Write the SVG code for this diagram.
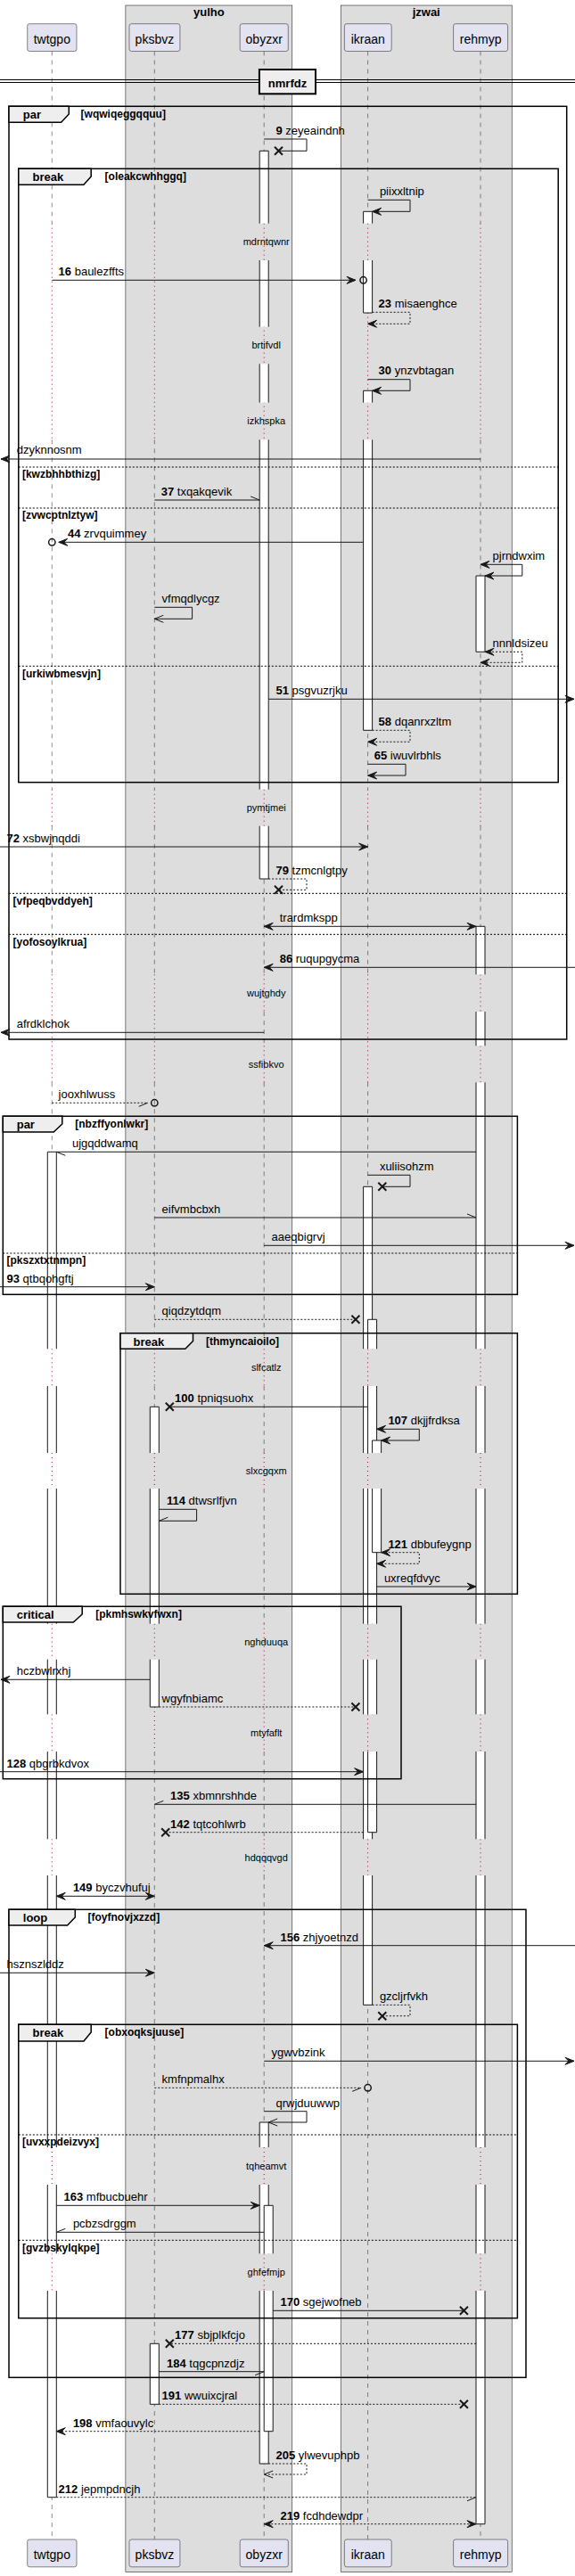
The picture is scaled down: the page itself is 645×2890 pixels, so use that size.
<svg xmlns="http://www.w3.org/2000/svg" width="645" height="2890" viewBox="0 0 645 2890">
<style>
.grp{fill:#DDDDDD;stroke:#000;stroke-width:0.5}
.gt{font:bold 13px 'Liberation Sans',Arial,sans-serif;text-anchor:middle;fill:#000}
.pb{fill:#E2E2F0;stroke:#181818;stroke-width:0.5}
.pt{font:14px 'Liberation Sans',Arial,sans-serif;text-anchor:middle;fill:#000}
.ll{fill:none;stroke:#181818;stroke-width:0.5;stroke-dasharray:5,5}
.ld{fill:none;stroke:#A80036;stroke-width:1;stroke-dasharray:1,4}
.bf{fill:#fff;stroke:none}
.bs{fill:none;stroke:#181818;stroke-width:1}
.fr{fill:none;stroke:#000;stroke-width:1.5}
.tab{fill:#EEEEEE;stroke:#000;stroke-width:1.5}
.fl{font:bold 13px 'Liberation Sans',Arial,sans-serif;fill:#000}
.gd{font:bold 12px 'Liberation Sans',Arial,sans-serif;fill:#000}
.sp{fill:none;stroke:#000;stroke-width:1;stroke-dasharray:2,2}
.dl{font:11px 'Liberation Sans',Arial,sans-serif;text-anchor:middle;fill:#000}
.m{fill:none;stroke:#181818;stroke-width:1}
.md{fill:none;stroke:#181818;stroke-width:1;stroke-dasharray:2,2}
.ah{fill:#181818;stroke:#181818;stroke-width:1}
.x{fill:none;stroke:#181818;stroke-width:2}
.c{fill:none;stroke:#181818;stroke-width:1.5}
.t{font:13px 'Liberation Sans',Arial,sans-serif;fill:#000}
.b{font-weight:bold}
.dv{fill:#EEEEEE;stroke:#000;stroke-width:2}
.dvl{fill:none;stroke:#000;stroke-width:1}
</style>
<rect width="645" height="2890" fill="#fff"/>
<g id="boxes">
<rect class="grp" x="140.9" y="6" width="186.9" height="2879.7"/>
<text class="gt" x="234.4" y="18">yulho</text>
<rect class="grp" x="382.2" y="6" width="192" height="2879.7"/>
<text class="gt" x="478.2" y="18">jzwai</text>
</g>
<g id="lifelines">
<path class="ll" d="M58.3 57.5V250.7M58.3 493.3V885.7M58.3 926.7V1093.3M58.3 1214.3V1513.3M58.3 1555V1630M58.3 1670V1821.7M58.3 1861.7V1923.3M58.3 1965V2063.3M58.3 2104V2409M58.3 2451V2528.3M58.3 2570V2848.7"/>
<path class="ld" d="M58.3 250.7V493.3M58.3 885.7V926.7M58.3 1093.3V1214.3M58.3 1513.3V1555M58.3 1630V1670M58.3 1821.7V1861.7M58.3 1923.3V1965M58.3 2063.3V2104M58.3 2409V2451M58.3 2528.3V2570"/>
<path class="ll" d="M173.3 57.5V250.7M173.3 493.3V885.7M173.3 926.7V1093.3M173.3 1214.3V1513.3M173.3 1555V1630M173.3 1670V1821.7M173.3 1861.7V1915M173.3 1965V2848.7"/>
<path class="ld" d="M173.3 250.7V493.3M173.3 885.7V926.7M173.3 1093.3V1214.3M173.3 1513.3V1555M173.3 1630V1670M173.3 1821.7V1861.7M173.3 1915V1965"/>
<path class="ll" d="M296.2 57.5V250.7M296.2 493.3V885.7M296.2 926.7V1093.3M296.2 1135V1173.3M296.2 1214.3V1513.3M296.2 1555V1630M296.2 1670V1821.7M296.2 1965V2063.3M296.2 2104V2409M296.2 2451V2528.3M296.2 2570V2848.7"/>
<path class="ld" d="M296.2 250.7V493.3M296.2 885.7V926.7M296.2 1093.3V1135M296.2 1173.3V1214.3M296.2 1513.3V1555M296.2 1630V1670M296.2 1821.7V1965M296.2 2063.3V2104M296.2 2409V2451M296.2 2528.3V2570"/>
<path class="ll" d="M412.6 57.5V250.7M412.6 493.3V885.7M412.6 926.7V1093.3M412.6 1214.3V1513.3M412.6 1555V1630M412.6 1670V1821.7M412.6 1861.7V1923.3M412.6 1965V2063.3M412.6 2104V2848.7"/>
<path class="ld" d="M412.6 250.7V493.3M412.6 885.7V926.7M412.6 1093.3V1214.3M412.6 1513.3V1555M412.6 1630V1670M412.6 1821.7V1861.7M412.6 1923.3V1965M412.6 2063.3V2104"/>
<path class="ll" d="M539 57.5V250.7M539 493.3V885.7M539 926.7V1093.3M539 1135V1173.3M539 1214.3V1513.3M539 1555V1630M539 1670V1821.7M539 1861.7V1923.3M539 1965V2063.3M539 2104V2409M539 2451V2528.3M539 2570V2848.7"/>
<path class="ld" d="M539 250.7V493.3M539 885.7V926.7M539 1093.3V1135M539 1173.3V1214.3M539 1513.3V1555M539 1630V1670M539 1821.7V1861.7M539 1923.3V1965M539 2063.3V2104M539 2409V2451M539 2528.3V2570"/>
</g>
<g id="p-twtgpo">
<rect class="pb" x="30.7" y="26.7" width="55.3" height="30.8" rx="2.5"/>
<text class="pt" x="58.3" y="48.7">twtgpo</text>
<rect class="pb" x="30.7" y="2849" width="55.3" height="30.8" rx="2.5"/>
<text class="pt" x="58.3" y="2870.7">twtgpo</text>
</g>
<g id="p-pksbvz">
<rect class="pb" x="145" y="26.7" width="56.9" height="30.8" rx="2.5"/>
<text class="pt" x="173.4" y="48.7">pksbvz</text>
<rect class="pb" x="145" y="2849" width="56.9" height="30.8" rx="2.5"/>
<text class="pt" x="173.4" y="2870.7">pksbvz</text>
</g>
<g id="p-obyzxr">
<rect class="pb" x="269.2" y="26.7" width="54.1" height="30.8" rx="2.5"/>
<text class="pt" x="296.2" y="48.7">obyzxr</text>
<rect class="pb" x="269.2" y="2849" width="54.1" height="30.8" rx="2.5"/>
<text class="pt" x="296.2" y="2870.7">obyzxr</text>
</g>
<g id="p-ikraan">
<rect class="pb" x="386.4" y="26.7" width="52.8" height="30.8" rx="2.5"/>
<text class="pt" x="412.8" y="48.7">ikraan</text>
<rect class="pb" x="386.4" y="2849" width="52.8" height="30.8" rx="2.5"/>
<text class="pt" x="412.8" y="2870.7">ikraan</text>
</g>
<g id="p-rehmyp">
<rect class="pb" x="508.6" y="26.7" width="61" height="30.8" rx="2.5"/>
<text class="pt" x="539.1" y="48.7">rehmyp</text>
<rect class="pb" x="508.6" y="2849" width="61" height="30.8" rx="2.5"/>
<text class="pt" x="539.1" y="2870.7">rehmyp</text>
</g>
<g id="divider">
<path class="dvl" d="M0 89.5H645M0 92.5H645"/>
<rect class="dv" x="290.9" y="78" width="63.1" height="27.3"/>
<text class="gt" x="322.5" y="97.5">nmrfdz</text>
</g>
<g id="bars">
<rect class="bf" x="291.2" y="169.3" width="10" height="81.4"/>
<rect class="bf" x="291.2" y="292" width="10" height="74.7"/>
<rect class="bf" x="291.2" y="408.3" width="10" height="43.4"/>
<rect class="bf" x="291.2" y="493.3" width="10" height="392.4"/>
<rect class="bf" x="291.2" y="926.7" width="10" height="59.3"/>
<rect class="bf" x="291.2" y="2381" width="10" height="28"/>
<rect class="bf" x="291.2" y="2451" width="10" height="77.3"/>
<rect class="bf" x="291.2" y="2570" width="10" height="194"/>
<path class="bs" d="M291.2 169.3V250.7M301.2 169.3V250.7M291.2 169.3H301.2M291.2 292V366.7M301.2 292V366.7M291.2 408.3V451.7M301.2 408.3V451.7M291.2 493.3V885.7M301.2 493.3V885.7M291.2 926.7V986M301.2 926.7V986M291.2 986H301.2M291.2 2381V2409M301.2 2381V2409M291.2 2381H301.2M291.2 2451V2528.3M301.2 2451V2528.3M291.2 2570V2764M301.2 2570V2764M291.2 2764H301.2"/>
<rect class="bf" x="296.2" y="2474.3" width="10" height="54"/>
<rect class="bf" x="296.2" y="2570" width="10" height="157.7"/>
<path class="bs" d="M296.2 2474.3V2528.3M306.2 2474.3V2528.3M296.2 2474.3H306.2M296.2 2570V2727.7M306.2 2570V2727.7M296.2 2727.7H306.2"/>
<rect class="bf" x="407.6" y="237.3" width="10" height="13.4"/>
<rect class="bf" x="407.6" y="292" width="10" height="59"/>
<rect class="bf" x="407.6" y="438.3" width="10" height="13.4"/>
<rect class="bf" x="407.6" y="493.3" width="10" height="326"/>
<rect class="bf" x="407.6" y="1331.3" width="10" height="182"/>
<rect class="bf" x="407.6" y="1555" width="10" height="75"/>
<rect class="bf" x="407.6" y="1670" width="10" height="151.7"/>
<rect class="bf" x="407.6" y="1861.7" width="10" height="61.6"/>
<rect class="bf" x="407.6" y="1965" width="10" height="98.3"/>
<rect class="bf" x="407.6" y="2104" width="10" height="145.3"/>
<path class="bs" d="M407.6 237.3V250.7M417.6 237.3V250.7M407.6 237.3H417.6M407.6 292V351M417.6 292V351M407.6 351H417.6M407.6 438.3V451.7M417.6 438.3V451.7M407.6 438.3H417.6M407.6 493.3V819.3M417.6 493.3V819.3M407.6 819.3H417.6M407.6 1331.3V1513.3M417.6 1331.3V1513.3M407.6 1331.3H417.6M407.6 1555V1630M417.6 1555V1630M407.6 1670V1821.7M417.6 1670V1821.7M407.6 1861.7V1923.3M417.6 1861.7V1923.3M407.6 1965V2063.3M417.6 1965V2063.3M407.6 2104V2249.3M417.6 2104V2249.3M407.6 2249.3H417.6"/>
<rect class="bf" x="412.6" y="1480.3" width="10" height="33"/>
<rect class="bf" x="412.6" y="1555" width="10" height="75"/>
<rect class="bf" x="412.6" y="1670" width="10" height="151.7"/>
<rect class="bf" x="412.6" y="1861.7" width="10" height="61.6"/>
<rect class="bf" x="412.6" y="1965" width="10" height="90.7"/>
<path class="bs" d="M412.6 1480.3V1513.3M422.6 1480.3V1513.3M412.6 1480.3H422.6M412.6 1555V1630M422.6 1555V1630M412.6 1670V1821.7M422.6 1670V1821.7M412.6 1861.7V1923.3M422.6 1861.7V1923.3M412.6 1965V2055.7M422.6 1965V2055.7M412.6 2055.7H422.6"/>
<rect class="bf" x="417.6" y="1616" width="10" height="14"/>
<rect class="bf" x="417.6" y="1670" width="10" height="71.7"/>
<path class="bs" d="M417.6 1616V1630M427.6 1616V1630M417.6 1616H427.6M417.6 1670V1741.7M427.6 1670V1741.7M417.6 1741.7H427.6"/>
<rect class="bf" x="534" y="646" width="10" height="85.3"/>
<rect class="bf" x="534" y="1039.3" width="10" height="54"/>
<rect class="bf" x="534" y="1135" width="10" height="38.3"/>
<rect class="bf" x="534" y="1214.3" width="10" height="299"/>
<rect class="bf" x="534" y="1555" width="10" height="75"/>
<rect class="bf" x="534" y="1670" width="10" height="151.7"/>
<rect class="bf" x="534" y="1861.7" width="10" height="61.6"/>
<rect class="bf" x="534" y="1965" width="10" height="98.3"/>
<rect class="bf" x="534" y="2104" width="10" height="305"/>
<rect class="bf" x="534" y="2451" width="10" height="77.3"/>
<rect class="bf" x="534" y="2570" width="10" height="261.7"/>
<path class="bs" d="M534 646V731.3M544 646V731.3M534 646H544M534 731.3H544M534 1039.3V1093.3M544 1039.3V1093.3M534 1039.3H544M534 1135V1173.3M544 1135V1173.3M534 1214.3V1513.3M544 1214.3V1513.3M534 1555V1630M544 1555V1630M534 1670V1821.7M544 1670V1821.7M534 1861.7V1923.3M544 1861.7V1923.3M534 1965V2063.3M544 1965V2063.3M534 2104V2409M544 2104V2409M534 2451V2528.3M544 2451V2528.3M534 2570V2831.7M544 2570V2831.7M534 2831.7H544"/>
<rect class="bf" x="53.3" y="1292.3" width="10" height="221"/>
<rect class="bf" x="53.3" y="1555" width="10" height="75"/>
<rect class="bf" x="53.3" y="1670" width="10" height="151.7"/>
<rect class="bf" x="53.3" y="1861.7" width="10" height="61.6"/>
<rect class="bf" x="53.3" y="1965" width="10" height="98.3"/>
<rect class="bf" x="53.3" y="2104" width="10" height="305"/>
<rect class="bf" x="53.3" y="2451" width="10" height="77.3"/>
<rect class="bf" x="53.3" y="2570" width="10" height="231.7"/>
<path class="bs" d="M53.3 1292.3V1513.3M63.3 1292.3V1513.3M53.3 1292.3H63.3M53.3 1555V1630M63.3 1555V1630M53.3 1670V1821.7M63.3 1670V1821.7M53.3 1861.7V1923.3M63.3 1861.7V1923.3M53.3 1965V2063.3M63.3 1965V2063.3M53.3 2104V2409M63.3 2104V2409M53.3 2451V2528.3M63.3 2451V2528.3M53.3 2570V2801.7M63.3 2570V2801.7M53.3 2801.7H63.3"/>
<rect class="bf" x="168.3" y="1578.3" width="10" height="51.7"/>
<rect class="bf" x="168.3" y="1670" width="10" height="151.7"/>
<rect class="bf" x="168.3" y="1861.7" width="10" height="53.3"/>
<rect class="bf" x="168.3" y="2629.3" width="10" height="68"/>
<path class="bs" d="M168.3 1578.3V1630M178.3 1578.3V1630M168.3 1578.3H178.3M168.3 1670V1821.7M178.3 1670V1821.7M168.3 1861.7V1915M178.3 1861.7V1915M168.3 1915H178.3M168.3 2629.3V2697.3M178.3 2629.3V2697.3M168.3 2629.3H178.3M168.3 2697.3H178.3"/>
</g>
<g id="frames">
<rect class="fr" x="10" y="119.3" width="625.7" height="1046.7"/>
<polygon class="tab" points="10,119.3 77.3,119.3 77.3,128 68.6,137.3 10,137.3"/>
<text class="fl" x="25.8" y="133">par</text>
<text class="gd" x="90.6" y="131.5">[wqwiqeggqquu]</text>
<path class="sp" d="M10 1002.3H635.7M10 1048.3H635.7"/>
<text class="gd" x="14.5" y="1014.5">[vfpeqbvddyeh]</text>
<text class="gd" x="14.5" y="1060.5">[yofosoylkrua]</text>
<rect class="fr" x="20.8" y="189.3" width="605.4" height="688.4"/>
<polygon class="tab" points="20.8,189.3 102.2,189.3 102.2,198 93.9,207.3 20.8,207.3"/>
<text class="fl" x="36.6" y="203.3">break</text>
<text class="gd" x="117.6" y="202">[oleakcwhhggq]</text>
<path class="sp" d="M20.8 524H626.2M20.8 570H626.2M20.8 747.3H626.2"/>
<text class="gd" x="24.9" y="536">[kwzbhhbthizg]</text>
<text class="gd" x="24.9" y="582">[zvwcptnlztyw]</text>
<text class="gd" x="24.9" y="759.5">[urkiwbmesvjn]</text>
<rect class="fr" x="3.3" y="1252.3" width="577.1" height="200"/>
<polygon class="tab" points="3.3,1252.3 69.8,1252.3 69.8,1261 60.2,1270 3.3,1270"/>
<text class="fl" x="18.7" y="1266">par</text>
<text class="gd" x="84.3" y="1264.5">[nbzffyonlwkr]</text>
<path class="sp" d="M3.3 1406H580.4"/>
<text class="gd" x="7.5" y="1418">[pkszxtxtnmpn]</text>
<rect class="fr" x="135" y="1495.7" width="445.4" height="292.6"/>
<polygon class="tab" points="135,1495.7 216.5,1495.7 216.5,1504.5 207.8,1513.3 135,1513.3"/>
<text class="fl" x="149.6" y="1509.7">break</text>
<text class="gd" x="231" y="1508.5">[thmyncaioilo]</text>
<rect class="fr" x="3.3" y="1802.3" width="446.7" height="193.4"/>
<polygon class="tab" points="3.3,1802.3 92.2,1802.3 92.2,1811 82.3,1820 3.3,1820"/>
<text class="fl" x="18.7" y="1816.3">critical</text>
<text class="gd" x="107.2" y="1815">[pkmhswkvfwxn]</text>
<rect class="fr" x="10" y="2142.3" width="580" height="525"/>
<polygon class="tab" points="10,2142.3 84.3,2142.3 84.3,2151 75.6,2160 10,2160"/>
<text class="fl" x="25.8" y="2156.3">loop</text>
<text class="gd" x="98.5" y="2155">[foyfnovjxzzd]</text>
<rect class="fr" x="20.8" y="2271.3" width="559.6" height="329.4"/>
<polygon class="tab" points="20.8,2271.3 102.2,2271.3 102.2,2280 93.9,2290 20.8,2290"/>
<text class="fl" x="36.6" y="2285.3">break</text>
<text class="gd" x="117.6" y="2284">[obxoqksjuuse]</text>
<path class="sp" d="M20.8 2395H580.4M20.8 2513.3H580.4"/>
<text class="gd" x="24.9" y="2407">[uvxxpdeizvyx]</text>
<text class="gd" x="24.9" y="2525.5">[gvzbskylqkpe]</text>
</g>
<g id="delays">
<text class="dl" x="298.7" y="275">mdrntqwnr</text>
<text class="dl" x="298.7" y="391">brtifvdl</text>
<text class="dl" x="298.7" y="476">izkhspka</text>
<text class="dl" x="298.7" y="910">pymtjmei</text>
<text class="dl" x="298.7" y="1118">wujtghdy</text>
<text class="dl" x="298.7" y="1198">ssfibkvo</text>
<text class="dl" x="298.7" y="1538">slfcatlz</text>
<text class="dl" x="298.7" y="1654">slxcgqxm</text>
<text class="dl" x="298.7" y="1846">nghduuqa</text>
<text class="dl" x="298.7" y="1948">mtyfaflt</text>
<text class="dl" x="298.7" y="2088">hdqqqvgd</text>
<text class="dl" x="298.7" y="2434">tqheamvt</text>
<text class="dl" x="298.7" y="2553">ghfefmjp</text>
</g>
<g id="connectors">
<path class="m" d="M296.2 156H344V169.3H312.5"/>
<path class="x" d="M308 164.8L317 173.8M317 164.8L308 173.8"/>
<text class="t" x="309.5" y="151"><tspan class="b">9</tspan> zeyeaindnh</text>
<path class="m" d="M412.6 224.3H460V237.3H417.6"/>
<polygon class="ah" points="427.6,233.3 417.6,237.3 427.6,241.3 423.6,237.3"/>
<text class="t" x="425.9" y="219">piixxltnip</text>
<path class="m" d="M58.3 314.3H399"/>
<polygon class="ah" points="389,310.3 399,314.3 389,318.3 393,314.3"/>
<circle class="c" cx="407.6" cy="314.3" r="3.7"/>
<text class="t" x="65.6" y="309"><tspan class="b">16</tspan> baulezffts</text>
<path class="md" d="M417.6 350.3H460V363.3H412.6"/>
<polygon class="ah" points="422.6,359.3 412.6,363.3 422.6,367.3 418.6,363.3"/>
<text class="t" x="424.6" y="344.5"><tspan class="b">23</tspan> misaenghce</text>
<path class="m" d="M412.6 425.7H460V438.3H417.6"/>
<polygon class="ah" points="427.6,434.3 417.6,438.3 427.6,442.3 423.6,438.3"/>
<text class="t" x="424.6" y="420"><tspan class="b">30</tspan> ynzvbtagan</text>
<path class="m" d="M539 515H1"/>
<polygon class="ah" points="11,511 1,515 11,519 7,515"/>
<text class="t" x="18.7" y="509">dzyknnosnm</text>
<path class="m" d="M173.3 561H291.2M291.2 561L281.2 557"/>
<text class="t" x="180.7" y="556"><tspan class="b">37</tspan> txqakqevik</text>
<path class="m" d="M407.6 608.3H65.8"/>
<polygon class="ah" points="75.8,604.3 65.8,608.3 75.8,612.3 71.8,608.3"/>
<circle class="c" cx="58.3" cy="608.3" r="3.7"/>
<text class="t" x="76" y="602.7"><tspan class="b">44</tspan> zrvquimmey</text>
<path class="m" d="M539 633.3H585.8V646H544"/>
<polygon class="ah" points="549,629.3 539,633.3 549,637.3 545,633.3"/>
<polygon class="ah" points="554,642 544,646 554,650 550,646"/>
<text class="t" x="552.6" y="628.3">pjrndwxim</text>
<path class="m" d="M173.3 681.3H215.6V694.3H173.3M183.3 690.3L173.3 694.3L183.3 698.3"/>
<text class="t" x="181.6" y="676">vfmqdlycgz</text>
<path class="md" d="M544 731.3H585.8V743.3H539"/>
<polygon class="ah" points="554,727.3 544,731.3 554,735.3 550,731.3"/>
<polygon class="ah" points="549,739.3 539,743.3 549,747.3 545,743.3"/>
<text class="t" x="552.6" y="726">nnnldsizeu</text>
<path class="m" d="M301.2 784.3H644"/>
<polygon class="ah" points="634,780.3 644,784.3 634,788.3 638,784.3"/>
<text class="t" x="309.5" y="779"><tspan class="b">51</tspan> psgvuzrjku</text>
<path class="md" d="M417.6 819.3H460V832.3H412.6"/>
<polygon class="ah" points="422.6,828.3 412.6,832.3 422.6,836.3 418.6,832.3"/>
<text class="t" x="424.6" y="814"><tspan class="b">58</tspan> dqanrxzltm</text>
<path class="m" d="M412.6 857.3H455V870H412.6"/>
<polygon class="ah" points="422.6,866 412.6,870 422.6,874 418.6,870"/>
<text class="t" x="419.7" y="852"><tspan class="b">65</tspan> iwuvlrbhls</text>
<path class="m" d="M0 950H412.6"/>
<polygon class="ah" points="402.6,946 412.6,950 402.6,954 406.6,950"/>
<text class="t" x="7.5" y="945"><tspan class="b">72</tspan> xsbwjnqddi</text>
<path class="md" d="M301.2 986H344V998.3H312.5"/>
<path class="x" d="M308 993.8L317 1002.8M317 993.8L308 1002.8"/>
<text class="t" x="309.5" y="981"><tspan class="b">79</tspan> tzmcnlgtpy</text>
<path class="m" d="M296.2 1039.3H534"/>
<polygon class="ah" points="306.2,1035.3 296.2,1039.3 306.2,1043.3 302.2,1039.3"/>
<polygon class="ah" points="524,1035.3 534,1039.3 524,1043.3 528,1039.3"/>
<text class="t" x="313.7" y="1034">trardmkspp</text>
<path class="m" d="M645 1085.3H296.2"/>
<polygon class="ah" points="306.2,1081.3 296.2,1085.3 306.2,1089.3 302.2,1085.3"/>
<text class="t" x="313.7" y="1080"><tspan class="b">86</tspan> ruqupgycma</text>
<path class="m" d="M296.2 1158.3H1"/>
<polygon class="ah" points="11,1154.3 1,1158.3 11,1162.3 7,1158.3"/>
<text class="t" x="18.7" y="1153">afrdklchok</text>
<path class="md" d="M58.3 1237.3H165.8"/>
<path class="m" d="M165.8 1237.3L155.8 1241.3"/>
<circle class="c" cx="173.3" cy="1237.3" r="3.7"/>
<text class="t" x="65.6" y="1232">jooxhlwuss</text>
<path class="m" d="M534 1292.3H63.3M63.3 1292.3L73.3 1296.3"/>
<text class="t" x="81" y="1287">ujgqddwamq</text>
<path class="m" d="M412.6 1318.3H460V1331.3H428.8"/>
<path class="x" d="M424.3 1326.8L433.3 1335.8M433.3 1326.8L424.3 1335.8"/>
<text class="t" x="425.9" y="1313">xuliisohzm</text>
<path class="m" d="M173.3 1366H534M534 1366L524 1362"/>
<text class="t" x="181.6" y="1361">eifvmbcbxh</text>
<path class="m" d="M296.2 1397.3H644"/>
<polygon class="ah" points="634,1393.3 644,1397.3 634,1401.3 638,1397.3"/>
<text class="t" x="304.6" y="1392">aaeqbigrvj</text>
<path class="m" d="M0 1443.7H173.3"/>
<polygon class="ah" points="163.3,1439.7 173.3,1443.7 163.3,1447.7 167.3,1443.7"/>
<text class="t" x="7.5" y="1438.5"><tspan class="b">93</tspan> qtbqohgftj</text>
<path class="md" d="M173.3 1480.3H398.9"/>
<path class="x" d="M394.4 1475.8L403.4 1484.8M403.4 1475.8L394.4 1484.8"/>
<text class="t" x="181.6" y="1475">qiqdzytdqm</text>
<path class="m" d="M412.6 1578.3H190.3"/>
<path class="x" d="M185.8 1573.8L194.8 1582.8M194.8 1573.8L185.8 1582.8"/>
<text class="t" x="196.1" y="1573"><tspan class="b">100</tspan> tpniqsuohx</text>
<path class="m" d="M422.6 1603.3H470.3V1616H427.6"/>
<polygon class="ah" points="432.6,1599.3 422.6,1603.3 432.6,1607.3 428.6,1603.3"/>
<polygon class="ah" points="437.6,1612 427.6,1616 437.6,1620 433.6,1616"/>
<text class="t" x="435.4" y="1598"><tspan class="b">107</tspan> dkjjfrdksa</text>
<path class="m" d="M178.3 1693.3H220.6V1706.3H178.3M178.3 1706.3L188.3 1702.3"/>
<text class="t" x="187" y="1688"><tspan class="b">114</tspan> dtwsrlfjvn</text>
<path class="md" d="M427.6 1741.7H470.3V1754.3H422.6"/>
<polygon class="ah" points="437.6,1737.7 427.6,1741.7 437.6,1745.7 433.6,1741.7"/>
<polygon class="ah" points="432.6,1750.3 422.6,1754.3 432.6,1758.3 428.6,1754.3"/>
<text class="t" x="435.4" y="1736.5"><tspan class="b">121</tspan> dbbufeygnp</text>
<path class="m" d="M422.6 1780H534"/>
<polygon class="ah" points="524,1776 534,1780 524,1784 528,1780"/>
<text class="t" x="430.9" y="1775">uxreqfdvyc</text>
<path class="m" d="M168.3 1884.3H1"/>
<polygon class="ah" points="11,1880.3 1,1884.3 11,1888.3 7,1884.3"/>
<text class="t" x="18.7" y="1879">hczbwlrxhj</text>
<path class="md" d="M178.3 1915H398.9"/>
<path class="x" d="M394.4 1910.5L403.4 1919.5M403.4 1910.5L394.4 1919.5"/>
<text class="t" x="181.6" y="1910">wgyfnbiamc</text>
<path class="m" d="M0 1987.7H407.6"/>
<polygon class="ah" points="397.6,1983.7 407.6,1987.7 397.6,1991.7 401.6,1987.7"/>
<text class="t" x="7.5" y="1982.5"><tspan class="b">128</tspan> qbgrbkdvox</text>
<path class="m" d="M534 2024.3H173.3M173.3 2024.3L183.3 2020.3"/>
<text class="t" x="191.1" y="2019"><tspan class="b">135</tspan> xbmnrshhde</text>
<path class="md" d="M407.6 2055.7H185.7"/>
<path class="x" d="M181.2 2051.2L190.2 2060.2M190.2 2051.2L181.2 2060.2"/>
<text class="t" x="191.1" y="2050.5"><tspan class="b">142</tspan> tqtcohlwrb</text>
<path class="m" d="M63.3 2127.3H173.3"/>
<polygon class="ah" points="73.3,2123.3 63.3,2127.3 73.3,2131.3 69.3,2127.3"/>
<polygon class="ah" points="163.3,2123.3 173.3,2127.3 163.3,2131.3 167.3,2127.3"/>
<text class="t" x="81.9" y="2122"><tspan class="b">149</tspan> byczvhufuj</text>
<path class="m" d="M645 2182.7H296.2"/>
<polygon class="ah" points="306.2,2178.7 296.2,2182.7 306.2,2186.7 302.2,2182.7"/>
<text class="t" x="314.5" y="2177.5"><tspan class="b">156</tspan> zhjyoetnzd</text>
<path class="m" d="M0 2213.3H173.3"/>
<polygon class="ah" points="163.3,2209.3 173.3,2213.3 163.3,2217.3 167.3,2213.3"/>
<text class="t" x="7.5" y="2208">hsznszlddz</text>
<path class="md" d="M417.6 2249.3H460V2261.7H428.8"/>
<path class="x" d="M424.3 2257.2L433.3 2266.2M433.3 2257.2L424.3 2266.2"/>
<text class="t" x="425.9" y="2244">gzcljrfvkh</text>
<path class="m" d="M296.2 2312.3H644"/>
<polygon class="ah" points="634,2308.3 644,2312.3 634,2316.3 638,2312.3"/>
<text class="t" x="304.6" y="2307">ygwvbzink</text>
<path class="md" d="M173.3 2342.3H405.1"/>
<path class="m" d="M405.1 2342.3L395.1 2346.3"/>
<circle class="c" cx="412.6" cy="2342.3" r="3.7"/>
<text class="t" x="181.6" y="2337">kmfnpmalhx</text>
<path class="m" d="M296.2 2368.7H344V2381H301.2M311.2 2377L301.2 2381L311.2 2385"/>
<text class="t" x="309.5" y="2363.5">qrwjduuwwp</text>
<path class="m" d="M63.3 2474.3H291.2"/>
<polygon class="ah" points="281.2,2470.3 291.2,2474.3 281.2,2478.3 285.2,2474.3"/>
<text class="t" x="71.5" y="2469"><tspan class="b">163</tspan> mfbucbuehr</text>
<path class="m" d="M296.2 2504.3H63.3M63.3 2504.3L73.3 2500.3"/>
<text class="t" x="81.9" y="2499">pcbzsdrggm</text>
<path class="m" d="M306.2 2592.3H520.4"/>
<path class="x" d="M515.9 2587.8L524.9 2596.8M524.9 2587.8L515.9 2596.8"/>
<text class="t" x="314.5" y="2587"><tspan class="b">170</tspan> sgejwofneb</text>
<path class="md" d="M534 2629.3H190.3"/>
<path class="x" d="M185.8 2624.8L194.8 2633.8M194.8 2624.8L185.8 2633.8"/>
<text class="t" x="196.1" y="2624"><tspan class="b">177</tspan> sbjplkfcjo</text>
<path class="m" d="M178.3 2660.7H296.2M296.2 2660.7L286.2 2664.7"/>
<text class="t" x="187" y="2655.5"><tspan class="b">184</tspan> tqgcpnzdjz</text>
<path class="md" d="M178.3 2697.3H520.4"/>
<path class="x" d="M515.9 2692.8L524.9 2701.8M524.9 2692.8L515.9 2701.8"/>
<text class="t" x="181.6" y="2692"><tspan class="b">191</tspan> wwuixcjral</text>
<path class="md" d="M291.2 2727.7H63.3"/>
<polygon class="ah" points="73.3,2723.7 63.3,2727.7 73.3,2731.7 69.3,2727.7"/>
<text class="t" x="81.9" y="2722.5"><tspan class="b">198</tspan> vmfaouvylc</text>
<path class="md" d="M301.2 2764H344V2776H296.2"/>
<path class="m" d="M306.2 2772L296.2 2776L306.2 2780"/>
<text class="t" x="309.5" y="2759"><tspan class="b">205</tspan> ylwevuphpb</text>
<path class="md" d="M63.3 2801.7H534"/>
<path class="m" d="M534 2801.7L524 2805.7"/>
<text class="t" x="65.6" y="2796.5"><tspan class="b">212</tspan> jepmpdncjh</text>
<path class="md" d="M296.2 2831.7H534"/>
<polygon class="ah" points="306.2,2827.7 296.2,2831.7 306.2,2835.7 302.2,2831.7"/>
<polygon class="ah" points="524,2827.7 534,2831.7 524,2835.7 528,2831.7"/>
<text class="t" x="314.5" y="2826.5"><tspan class="b">219</tspan> fcdhdewdpr</text>
</g>
</svg>
